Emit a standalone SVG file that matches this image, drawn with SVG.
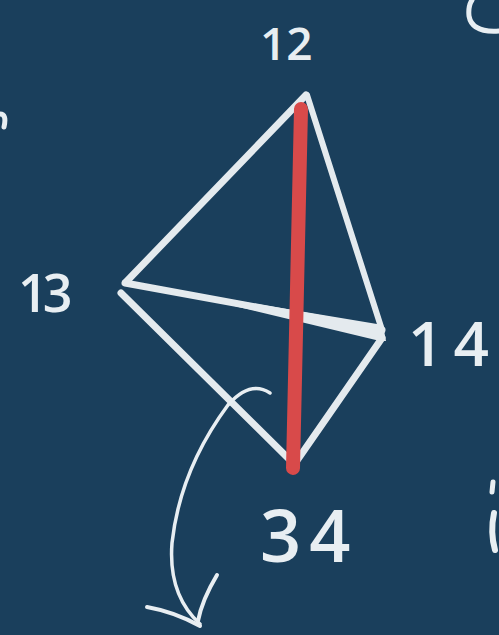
<svg xmlns="http://www.w3.org/2000/svg" width="499" height="635" viewBox="0 0 499 635">
<style>
.bg{fill:#1a3f5c}
.edge{stroke:#e4eaee;stroke-linecap:round;fill:none}
.lbl{font-family:"Open Sans","DejaVu Sans",sans-serif;fill:#e8eef2;font-weight:600}
.ink{stroke:#e8eef2;fill:none;stroke-linecap:round;stroke-linejoin:round}
</style>
<rect class="bg" x="0" y="0" width="499" height="635"/>
<g id="fragments">
<path class="ink" stroke-width="5" d="M499 31 Q472 33 469 16 Q468 6 472 0"/>
<path class="ink" stroke-width="5" d="M0 114 Q7 114 4 127"/>
<path class="ink" stroke-width="5" d="M493 482 L492 492"/>
<path class="ink" stroke-width="6" d="M494 513 Q490 532 495 550"/>
</g>
<g id="connectors">
<line class="edge" stroke-width="7" x1="306" y1="95" x2="126" y2="282"/>
<line class="edge" stroke-width="6" x1="307" y1="95" x2="382" y2="330"/>
<path class="edge" stroke-width="7" d="M125 283 L382 330"/>
<path d="M160 288 L383 325 L386 341 L380 341 Z" fill="#e4eaee"/>
<line class="edge" stroke-width="7" x1="121" y1="293" x2="292" y2="462"/>
<line class="edge" stroke-width="7" x1="382" y1="338" x2="296" y2="462"/>
<line stroke="#d84a4a" stroke-width="14" stroke-linecap="round" x1="301" y1="109" x2="293" y2="468"/>
<path class="ink" stroke-width="3.5" d="M270 393 Q250 380 228 405 Q180 470 172 543 Q168 595 200 624"/>
<path class="ink" stroke-width="4" d="M147 607 Q175 612 200 626 M217 575 Q202 600 198 621"/>
</g>
<g id="n12"><text class="lbl" x="260" y="60" font-size="46">12</text></g>
<g id="n13"><text class="lbl" x="18" y="312" font-size="52" letter-spacing="-5">13</text></g>
<g id="n14"><text class="lbl" x="408" y="366" font-size="62" letter-spacing="10">14</text></g>
<g id="n34"><text class="lbl" x="260" y="562" font-size="72" letter-spacing="8">34</text></g>
</svg>
